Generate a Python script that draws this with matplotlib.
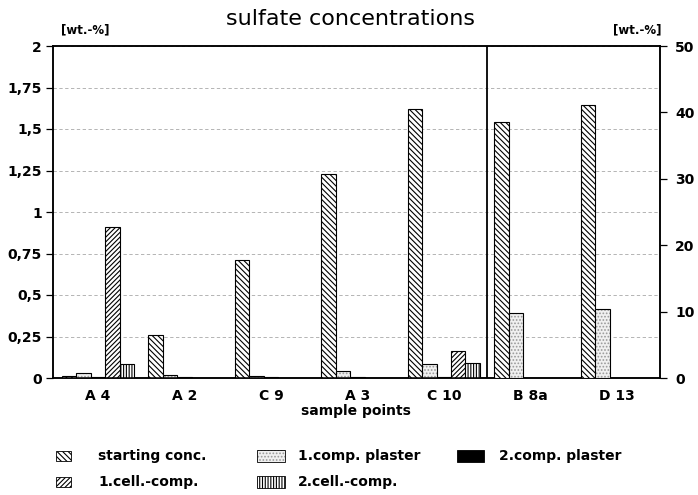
import matplotlib
matplotlib.use("Agg")
import matplotlib.pyplot as plt
from matplotlib.patches import Rectangle
from matplotlib.ticker import FuncFormatter, MultipleLocator
import numpy as np

# ---- data ----
left_categories = ['A 4', 'A 2', 'C 9', 'A 3', 'C 10']
right_categories = ['B 8a', 'D 13']

# left section (left axis, wt.-%)
starting_left = [0.01, 0.26, 0.71, 1.23, 1.62]
comp1_left = [0.03, 0.02, 0.012, 0.045, 0.085]
comp2_left = [0.004, 0.005, 0.006, 0.005, 0.005]
cell1_left = [0.91, 0.0, 0.0, 0.0, 0.16]
cell2_left = [0.085, 0.0, 0.0, 0.0, 0.09]

# right section (right axis, wt.-%)
starting_right = [38.6, 41.1]
comp1_right = [9.8, 10.4]
comp2_right = [0.0, 0.0]
cell1_right = [0.0, 0.0]
cell2_right = [0.0, 0.0]

series_labels = ['starting conc.', '1.comp. plaster', '2.comp. plaster',
                 '1.cell.-comp.', '2.cell.-comp.']

plt.rcParams['font.family'] = 'DejaVu Sans'
plt.rcParams['hatch.linewidth'] = 0.8

W, H = 698, 495
fig = plt.figure(figsize=(W / 100, H / 100), dpi=100)
ax = fig.add_axes([53 / W, 1 - 378 / H, (660 - 53) / W, (378 - 46) / H])
ax2 = ax.twinx()

styles = [
    dict(facecolor='white', hatch='\\\\\\\\\\\\'),
    dict(facecolor='#f0f0f0', hatch='.....'),
    dict(facecolor='black', hatch=None),
    dict(facecolor='white', hatch='///////'),
    dict(facecolor='white', hatch='||||||'),
]

bw = 0.167
xl = np.arange(len(left_categories))
xr = np.arange(len(right_categories)) + len(left_categories)


def draw(axis, x, vals_list):
    for k, (vals, st) in enumerate(zip(vals_list, styles)):
        pos = x + (k - 2) * bw
        if k == 1:
            axis.bar(pos, vals, bw, facecolor=st['facecolor'], hatch=st['hatch'],
                     edgecolor='#999999', linewidth=0, zorder=3)
            axis.bar(pos, vals, bw, facecolor='none', edgecolor='black',
                     linewidth=0.8, zorder=4)
        else:
            axis.bar(pos, vals, bw, facecolor=st['facecolor'], hatch=st['hatch'],
                     edgecolor='black', linewidth=0.8, zorder=3)


draw(ax, xl, [starting_left, comp1_left, comp2_left, cell1_left, cell2_left])
draw(ax2, xr, [starting_right, comp1_right, comp2_right, cell1_right, cell2_right])

ax.set_xlim(-0.52, 6.5)
ax.set_ylim(0, 2)
ax2.set_ylim(0, 50)

ax.yaxis.set_major_locator(MultipleLocator(0.25))
ax.yaxis.set_major_formatter(FuncFormatter(lambda v, p: ('%g' % v).replace('.', ',')))
ax2.yaxis.set_major_locator(MultipleLocator(10))

ax.grid(axis='y', color='#a8a8a8', linestyle=(0, (4, 3)), linewidth=0.6, zorder=0)
ax.set_axisbelow(True)
ax.axvline(4.5, color='black', linewidth=1.3, zorder=5)

ax.set_xticks(np.concatenate([xl, xr]))
ax.set_xticklabels(left_categories + right_categories, fontsize=10, fontweight='bold')
ax.tick_params(axis='x', length=0, pad=8)
ax.tick_params(axis='y', direction='out', length=5, width=0.9, labelsize=10, pad=3)
ax2.tick_params(axis='y', direction='out', length=5, width=0.9, labelsize=10, pad=6)
for lab in ax.get_yticklabels() + ax2.get_yticklabels():
    lab.set_fontweight('bold')

for a in (ax, ax2):
    for s in a.spines.values():
        s.set_linewidth(1.1)

fig.text(351 / W, 1 - 19 / H, 'sulfate concentrations', ha='center', va='center', fontsize=16)
fig.text(85 / W, 1 - 30 / H, '[wt.-%]', ha='center', va='center', fontsize=8.5, fontweight='bold')
fig.text(637 / W, 1 - 30 / H, '[wt.-%]', ha='center', va='center', fontsize=8.5, fontweight='bold')
fig.text(356 / W, 1 - 411 / H, 'sample points', ha='center', va='center', fontsize=10, fontweight='bold')

# legend (manual layout)
leg_pos = [  # (patch x0, patch x1, text x, y center)
    (56, 71, 98, 456),
    (257, 285, 298, 456),
    (457, 484, 499, 456),
    (56, 71, 98, 482),
    (257, 285, 298, 482),
]
heights = [10, 12, 12, 10, 12]
for k, (lab, st, (x0, x1, tx, yc), hh) in enumerate(zip(series_labels, styles, leg_pos, heights)):
    ec = '#999999' if k == 1 else 'black'
    r = Rectangle((x0 / W, 1 - (yc + hh / 2) / H), (x1 - x0) / W, hh / H,
                  transform=fig.transFigure, facecolor=st['facecolor'], hatch=st['hatch'],
                  edgecolor=ec, linewidth=0 if k == 1 else 0.6)
    fig.add_artist(r)
    if k == 1:
        fig.add_artist(Rectangle((x0 / W, 1 - (yc + hh / 2) / H), (x1 - x0) / W, hh / H,
                                 transform=fig.transFigure, facecolor='none',
                                 edgecolor='black', linewidth=0.6))
    fig.text(tx / W, 1 - yc / H, lab, ha='left', va='center', fontsize=10, fontweight='bold')

fig.savefig('out.png', dpi=100)
